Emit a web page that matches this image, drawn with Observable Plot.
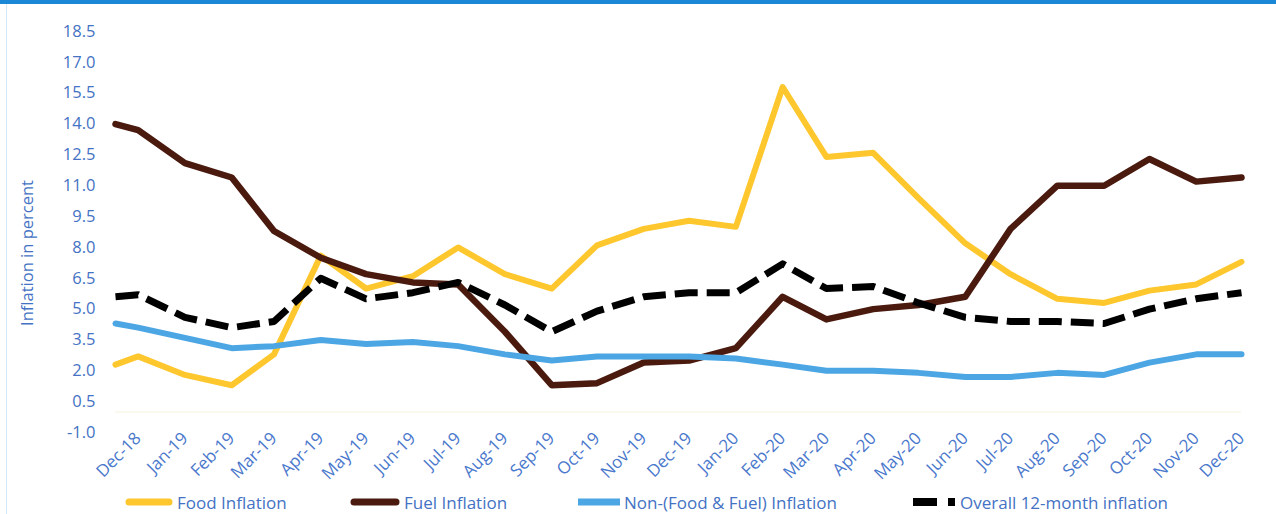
<!DOCTYPE html>
<html>
<head>
<meta charset="utf-8">
<script src="https://cdn.jsdelivr.net/npm/d3@7"></script>
<script src="https://cdn.jsdelivr.net/npm/@observablehq/plot@0.6"></script>
<style>
  body { margin: 0; background: #fff; font-family: "Open Sans", sans-serif; }
  #wrap { position: relative; width: 1276px; height: 514px; overflow: hidden; background: #fff; }
  #topbar { position: absolute; left: 0; top: 0; width: 1276px; height: 4px; background: #1a88d6; }
  #leftline { position: absolute; left: 6px; top: 4px; width: 1px; height: 510px; background: #d3e8f7; }
  #chart { position: absolute; left: 0; top: 0; }
  #legend { position: absolute; left: 0; top: 489px; width: 1276px; height: 26px; }
  .item { position: absolute; top: 0; height: 26px; display: flex; align-items: center; font-size: 17px; color: #4472c4; white-space: nowrap; }
  .item svg { margin-right: 4px; }
</style>
</head>
<body>
<div id="wrap">
  <div id="topbar"></div>
  <div id="leftline"></div>
  <div id="chart"></div>
  <div id="legend"></div>
</div>
<script>
// ---- data ----
const months = ["Dec-18","Jan-19","Feb-19","Mar-19","Apr-19","May-19","Jun-19","Jul-19","Aug-19","Sep-19","Oct-19","Nov-19","Dec-19",
                "Jan-20","Feb-20","Mar-20","Apr-20","May-20","Jun-20","Jul-20","Aug-20","Sep-20","Oct-20","Nov-20","Dec-20"];
const leadPeriod = "2018-11-16"; // series start half a month before the first labelled month
const seriesNames = ["Food Inflation", "Fuel Inflation", "Non-(Food & Fuel) Inflation", "Overall 12-month inflation"];
const food    = [2.3, 2.7, 1.8, 1.3, 2.8, 7.6, 6.0, 6.6, 8.0, 6.7, 6.0, 8.1, 8.9, 9.3, 9.0, 15.8, 12.4, 12.6, 10.4, 8.2, 6.7, 5.5, 5.3, 5.9, 6.2, 7.3];
const fuel    = [14.0, 13.7, 12.1, 11.4, 8.8, 7.5, 6.7, 6.3, 6.2, 3.9, 1.3, 1.4, 2.4, 2.5, 3.1, 5.6, 4.5, 5.0, 5.2, 5.6, 8.9, 11.0, 11.0, 12.3, 11.2, 11.4];
const nonFoodFuel = [4.3, 4.1, 3.6, 3.1, 3.2, 3.5, 3.3, 3.4, 3.2, 2.8, 2.5, 2.7, 2.7, 2.7, 2.6, 2.3, 2.0, 2.0, 1.9, 1.7, 1.7, 1.9, 1.8, 2.4, 2.8, 2.8];
const overall = [5.6, 5.7, 4.6, 4.1, 4.4, 6.5, 5.5, 5.8, 6.3, 5.2, 3.9, 4.9, 5.6, 5.8, 5.8, 7.2, 6.0, 6.1, 5.3, 4.6, 4.4, 4.4, 4.3, 5.0, 5.5, 5.8];
const yTicks = [-1.0, 0.5, 2.0, 3.5, 5.0, 6.5, 8.0, 9.5, 11.0, 12.5, 14.0, 15.5, 17.0, 18.5];
const yLabel = "Inflation in percent";

// ---- build ----
const parseMonth = d3.utcParse("%b-%y");
const monthDates = months.map(parseMonth);
const periods = [d3.utcParse("%Y-%m-%d")(leadPeriod), ...monthDates];
const labelOf = new Map(monthDates.map((d, i) => [+d, months[i]]));

const styles = [
  {stroke: "#fec72e", strokeWidth: 6},
  {stroke: "#4a1a0f", strokeWidth: 6.5},
  {stroke: "#4ca6e4", strokeWidth: 6},
  {stroke: "#000000", strokeWidth: 7, strokeDasharray: "23,9", strokeLinecap: "butt"}
];
const valueSets = [food, fuel, nonFoodFuel, overall];
const rows = [];
valueSets.forEach((vals, s) => vals.forEach((v, i) => rows.push({series: seriesNames[s], date: periods[i], value: v})));

const lineMarks = seriesNames.map((name, s) =>
  Plot.line(rows.filter(r => r.series === name), {
    x: "date", y: "value",
    strokeLinejoin: "round", strokeLinecap: "round",
    ...styles[s]
  })
);

const chart = Plot.plot({
  width: 1276, height: 485,
  marginLeft: 115, marginRight: 35, marginTop: 31, marginBottom: 53,
  style: {fontFamily: "Open Sans", fontSize: "16px", color: "#4472c4", background: "transparent", overflow: "visible"},
  x: {type: "utc", domain: [periods[0], periods[periods.length - 1]]},
  y: {domain: [-1, 18.5]},
  marks: [
    Plot.ruleY([0], {stroke: "#f7f2dc", strokeWidth: 1}),
    Plot.axisY(yTicks, {tickSize: 0, tickPadding: 20, tickFormat: d => d.toFixed(1), fill: "#4472c4", fontSize: 16.5, label: null}),
    Plot.axisX(monthDates, {tickSize: 0, tickRotate: -45, tickPadding: 3, tickFormat: d => labelOf.get(+d), fill: "#4a78cc", fontSize: 17, label: null}),
    Plot.text([yLabel], {frameAnchor: "left", dx: -88, dy: 21, rotate: -90, fill: "#4472c4", fontSize: 16.5, textAnchor: "middle"}),
    ...lineMarks
  ]
});
document.getElementById("chart").appendChild(chart);

// ---- legend ----
const legendX = [125, 350, 578, 913];
const swatches = [
  `<svg width="48" height="10"><line x1="4" y1="5" x2="44" y2="5" stroke="#fec72e" stroke-width="7" stroke-linecap="round"/></svg>`,
  `<svg width="50" height="10"><line x1="4" y1="5" x2="46" y2="5" stroke="#4a1a0f" stroke-width="7" stroke-linecap="round"/></svg>`,
  `<svg width="42" height="10"><line x1="0" y1="5" x2="42" y2="5" stroke="#4ca6e4" stroke-width="7"/></svg>`,
  `<svg width="43" height="10"><rect x="0" y="1" width="24" height="8" fill="#000"/><rect x="35" y="1" width="7" height="8" fill="#000"/></svg>`
];
const legend = document.getElementById("legend");
seriesNames.forEach((name, i) => {
  const it = document.createElement("div");
  it.className = "item";
  it.style.left = legendX[i] + "px";
  it.innerHTML = swatches[i] + `<span>${name.replace("&", "&amp;")}</span>`;
  legend.appendChild(it);
});
</script>
</body>
</html>
